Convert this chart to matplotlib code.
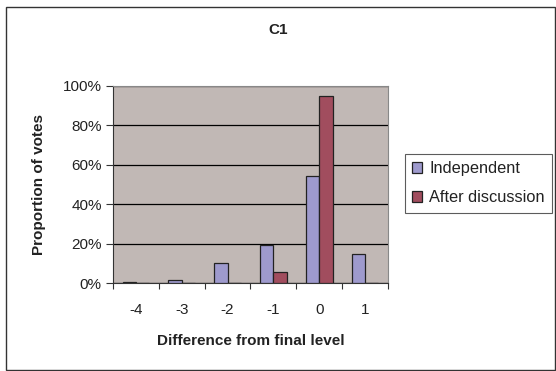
import numpy as np
import matplotlib.pyplot as plt
from matplotlib.patches import Rectangle
from matplotlib.ticker import FixedLocator, PercentFormatter

plt.rcParams['font.family'] = ['Liberation Sans', 'DejaVu Sans']

# Vote distributions by difference from the final level
levels = ['-4', '-3', '-2', '-1', '0', '1']
independent = [0.8, 1.5, 10.1, 19.4, 54.3, 14.8]
after_discussion = [0.0, 0.0, 0.0, 5.6, 94.8, 0.0]

fig = plt.figure(figsize=(5.56, 3.71), dpi=100)
fig.patches.append(Rectangle((0.011, 0.003), 0.987, 0.978, transform=fig.transFigure,
                             fill=False, edgecolor='#333333', linewidth=1.0))

ax = fig.add_axes([0.203, 0.236, 0.495, 0.533])
ax.set_facecolor('#C1B8B5')

x = np.arange(len(levels))
w = 0.29
ax.bar(x - w / 2, independent, w, color='#9E9ACD', edgecolor='#222222',
       linewidth=0.9, label='Independent', zorder=3)
ax.bar(x + w / 2, after_discussion, w, color='#A14D5E', edgecolor='#222222',
       linewidth=0.9, label='After discussion', zorder=3)

ax.set_xlim(-0.5, len(levels) - 0.5)
ax.set_ylim(0, 100)
ax.set_yticks(np.arange(0, 101, 20))
ax.yaxis.set_major_formatter(PercentFormatter(decimals=0))
ax.grid(axis='y', color='black', linewidth=0.9, zorder=1)

ax.set_xticks(x)
ax.set_xticklabels(levels)
ax.xaxis.set_minor_locator(FixedLocator(np.arange(-0.5, len(levels), 1.0)))
ax.tick_params(axis='x', which='major', length=0, pad=14, labelsize=11, labelcolor='#222222')
ax.tick_params(axis='x', which='minor', length=4, width=0.8, color='#333333')
ax.tick_params(axis='y', length=5, width=0.8, color='#333333', pad=3,
               labelsize=11, labelcolor='#222222')

for side in ['left', 'bottom']:
    ax.spines[side].set_color('#333333')
for side in ['top', 'right']:
    ax.spines[side].set_color('#888888')

ax.set_xlabel('Difference from final level', fontsize=11, fontweight='bold',
              labelpad=12, color='#222222')
ax.set_ylabel('Proportion of votes', fontsize=11, fontweight='bold',
              labelpad=12, color='#222222')
fig.text(0.5, 0.918, 'C1', ha='center', va='center', fontsize=11,
         fontweight='bold', color='#222222')

leg = fig.legend(loc='upper left', bbox_to_anchor=(0.728, 0.585), fontsize=11.8,
                 frameon=True, fancybox=False, edgecolor='#333333', handlelength=0.6,
                 handleheight=0.6, handletextpad=0.45, borderpad=0.45,
                 labelspacing=0.85, borderaxespad=0)
leg.get_frame().set_linewidth(0.8)
for t in leg.get_texts():
    t.set_color('#222222')

fig.savefig('out.png', dpi=100, facecolor='white')
